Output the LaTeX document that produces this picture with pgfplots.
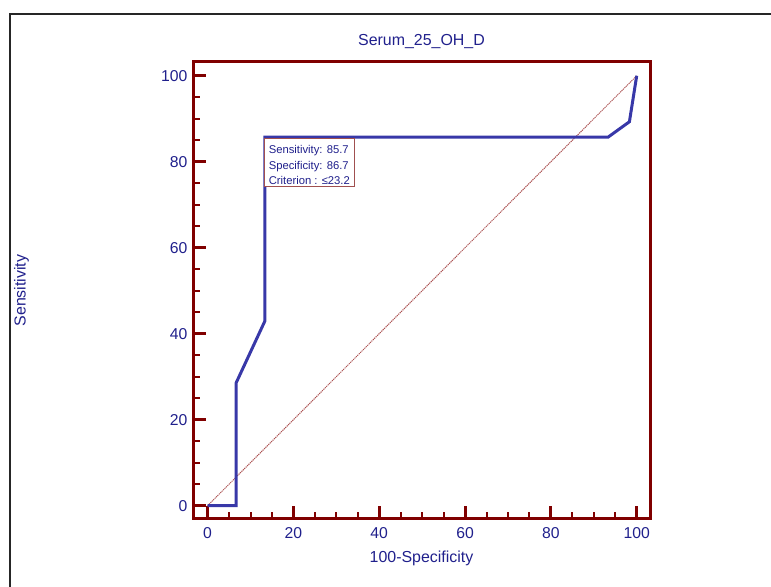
\documentclass[border=0pt]{standalone}
\usepackage{fontspec}
\setmainfont{Liberation Sans}
\usepackage{pgfplots}
\pgfplotsset{compat=1.18}

\definecolor{navy}{RGB}{32,32,140}
\definecolor{axred}{RGB}{128,0,0}
\definecolor{rocblue}{RGB}{56,56,168}
\definecolor{diag}{RGB}{170,80,80}
\definecolor{boxbord}{RGB}{160,80,80}

\begin{document}
\begin{tikzpicture}[x=1bp,y=1bp]
\useasboundingbox (0,0) rectangle (771,587);
\clip (0,0) rectangle (771,587);
\draw[line width=2bp, black!85] (10.3,573.3) rectangle (800,-30);
\begin{axis}[
  at={(193bp,68bp)}, anchor=south west,
  scale only axis,
  width=457bp, height=457bp,
  xmin=-3.4, xmax=103.1,
  ymin=-3.1, ymax=103.2,
  xtick={0,20,40,60,80,100},
  ytick={0,20,40,60,80,100},
  minor tick num=3,
  tick align=inside,
  xtick pos=bottom, ytick pos=left,
  major tick length=13bp, minor tick length=7bp,
  axis line style={axred, line width=3bp},
  every tick/.style={axred},
  major tick style={axred, line width=3bp},
  minor tick style={axred, line width=2bp},
  /pgf/number format/assume math mode=true,
  tick label style={font=\fontsize{15.8}{18}\selectfont, text=navy, inner sep=0pt},
  xticklabel style={anchor=north, yshift=-8bp},
  yticklabel style={anchor=east, xshift=-5.5bp},
  title={Serum\_25\_OH\_D},
  title style={font=\fontsize{16}{18}\selectfont, text=navy, at={(axis description cs:0.5,1)}, anchor=base, yshift=11bp},
  xlabel={100-Specificity},
  xlabel style={font=\fontsize{16}{18}\selectfont, text=navy, at={(axis description cs:0.5,0)}, anchor=base, yshift=-44bp},
  ylabel={Sensitivity},
  ylabel style={font=\fontsize{16}{18}\selectfont, text=navy, at={(axis description cs:-0.3665,0.5)}, anchor=base},
]
% reference diagonal
\addplot[diag, line width=1bp, dash pattern=on 1.2bp off 0.8bp] coordinates {(0,0) (100,100)};
% ROC curve
\addplot[rocblue, line width=3bp] coordinates {
  (0,0) (6.67,0) (6.67,28.6) (13.33,42.9) (13.33,85.7)
  (93.3,85.7) (98.3,89.3) (100,100)
};
\node[draw=boxbord, line width=1.2bp, fill=white, anchor=north west, align=left,
      text=navy, font=\fontsize{11.3}{15.2}\selectfont,
      inner xsep=4.4bp, inner ysep=2.5bp]
  at (axis cs:13.1,85.5)
  {\rule{0pt}{12.7bp}Sensitivity: 85.7\\Specificity: 86.7\\Criterion : ≤23.2};
\end{axis}
\end{tikzpicture}
\end{document}
